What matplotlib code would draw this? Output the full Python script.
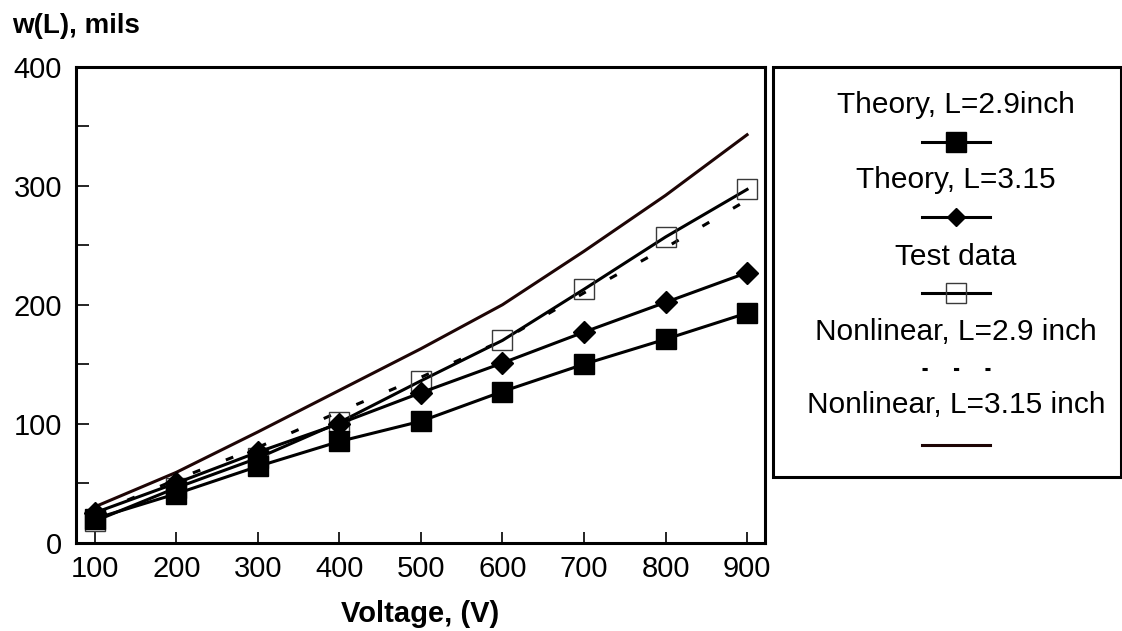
import matplotlib
matplotlib.use("Agg")
import matplotlib.pyplot as plt
from matplotlib.lines import Line2D
from matplotlib.patches import Rectangle

plt.rcParams['font.family'] = ['Liberation Sans', 'DejaVu Sans']

voltage = [100, 200, 300, 400, 500, 600, 700, 800, 900]
theory_29 = [20, 41, 64, 85, 102, 127, 150, 171, 193]
theory_315 = [25, 50, 76, 100, 126, 151, 177, 202, 227]
test_data = [18, 46, 71, 101, 136, 170, 213, 257, 297]
nonlin_29 = [24, 53, 80, 110, 139, 170, 210, 248, 288]
nonlin_315 = [30, 59, 93, 128, 163, 200, 245, 292, 343]

labels = ["Theory, L=2.9inch", "Theory, L=3.15", "Test data",
          "Nonlinear, L=2.9 inch", "Nonlinear, L=3.15 inch"]
x_ticks = [100, 200, 300, 400, 500, 600, 700, 800, 900]
y_ticks = [0, 100, 200, 300, 400]
y_minor = [50, 150, 250, 350]

W, H = 1122, 631
fig = plt.figure(figsize=(W / 100, H / 100), dpi=100)
ax = fig.add_axes([76 / W, 1 - 542.5 / H, (765 - 76) / W, (542.5 - 67) / H])

lw = 2.2
styles = [
    dict(color='black', lw=lw, marker='s', ms=14.5, mfc='black', mec='black'),
    dict(color='black', lw=lw, marker='D', ms=11.5, mfc='black', mec='black'),
    dict(color='black', lw=lw, marker='s', ms=14.5, mfc='none', mec='#3a3a3a', mew=1.0),
    dict(color='black', lw=lw, linestyle=(0, (2.6, 9))),
    dict(color='#1e0505', lw=lw),
]
series = [theory_29, theory_315, test_data, nonlin_29, nonlin_315]
order = [4, 3, 2, 1, 0]
for i in order:
    ax.plot(voltage, series[i], zorder=3 + (4 - i) * 0.1, clip_on=False, **styles[i])

ax.set_xlim(77, 922)
ax.set_ylim(0, 400)
ax.set_xticks(x_ticks)
ax.set_xticklabels([str(v) for v in x_ticks])
ax.set_yticks(y_ticks)
ax.set_yticklabels([str(v) for v in y_ticks])
ax.set_yticks(y_minor, minor=True)
ax.tick_params(axis='both', which='both', direction='in', width=1.2, labelsize=21)
ax.tick_params(axis='x', length=8, pad=9)
ax.tick_params(axis='y', which='both', length=9, pad=10)
for sp in ax.spines.values():
    sp.set_linewidth(2.2)

ax.set_xlabel("Voltage, (V)", fontsize=21, fontweight='bold', labelpad=12)
fig.text(12 / W, 1 - 33 / H, "w(L), mils", fontsize=20, fontweight='bold',
         ha='left', va='baseline')

# Legend (manual, vertically stacked: label above sample)
fig.patches.append(Rectangle((773 / W, 1 - 477 / H), (1121 - 773) / W, (477 - 67) / H,
                             transform=fig.transFigure, fill=False, lw=2.2,
                             edgecolor='black'))
cx = 956
text_y = [105, 180, 257, 332, 405]
samp_y = [142, 217, 293, 369, 445]
for i in range(5):
    fig.text(cx / W, 1 - text_y[i] / H, labels[i], fontsize=21.5, ha='center',
             va='center')
    st = dict(styles[i])
    yy = 1 - samp_y[i] / H
    ls = st.pop('linestyle', '-')
    if ls != '-':
        ls = (0, (1.7, 8.6))
    ln = Line2D([922 / W, 990 / W], [yy, yy], transform=fig.transFigure,
                color=st.pop('color'), lw=st.pop('lw'), linestyle=ls)
    fig.lines.append(ln)
    if 'marker' in st:
        mk = Line2D([cx / W], [yy], transform=fig.transFigure, linestyle='none',
                    marker=st['marker'], ms=st['ms'] * (0.95 if st['marker'] == 's' else 0.8),
                    mfc=st['mfc'], mec=st['mec'], mew=st.get('mew', 1.0))
        fig.lines.append(mk)

fig.savefig("out.png", dpi=100)
